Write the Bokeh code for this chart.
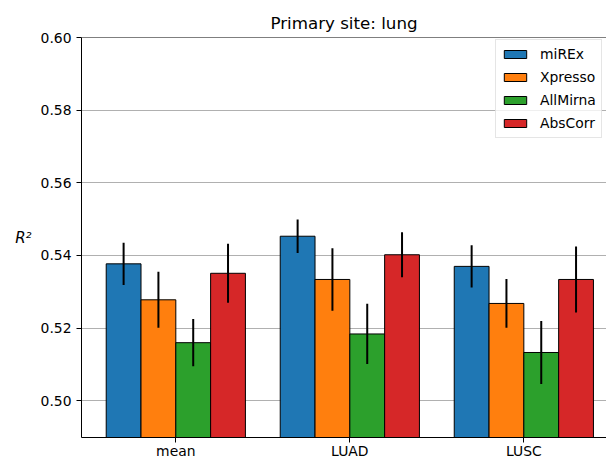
from bokeh.plotting import figure
from bokeh.models import (ColumnDataSource, FixedTicker, PrintfTickFormatter, Legend, LegendItem,
                          Span, Range1d)
from bokeh.transform import dodge
from bokeh.embed import file_html
from bokeh.resources import INLINE

# ---- data ----
groups = ["mean", "LUAD", "LUSC"]
methods = ["miREx", "Xpresso", "AllMirna", "AbsCorr"]
colors = ["#1f77b4", "#ff7f0e", "#2ca02c", "#d62728"]
mirex = [0.5377, 0.5453, 0.5370]
mirex_err = [0.0058, 0.0046, 0.0058]
xpresso = [0.5278, 0.5334, 0.5268]
xpresso_err = [0.0077, 0.0086, 0.0067]
allmirna = [0.5160, 0.5184, 0.5133]
allmirna_err = [0.0065, 0.0083, 0.0087]
abscorr = [0.5351, 0.5402, 0.5334]
abscorr_err = [0.0081, 0.0062, 0.0091]
y_ticks = [0.50, 0.52, 0.54, 0.56, 0.58, 0.60]

values = [mirex, xpresso, allmirna, abscorr]
errors = [mirex_err, xpresso_err, allmirna_err, abscorr_err]
xpos = list(range(len(groups)))

FONT = "DejaVu Sans"

p = figure(width=606, frame_height=400, output_backend="svg", toolbar_location=None,
           x_range=Range1d(-0.542, 2.475), y_range=Range1d(0.4899, 0.60),
           min_border_left=81, min_border_right=0, min_border_top=37,
           title="Primary site: lung")
p.outline_line_color = None
p.background_fill_color = "white"
p.border_fill_color = "white"

p.title.align = "center"
p.title.text_font = FONT
p.title.text_font_size = "16.7px"
p.title.text_font_style = "normal"
p.title.text_color = "black"

p.xgrid.grid_line_color = None
p.ygrid.grid_line_color = "#b0b0b0"
p.ygrid.grid_line_width = 1
p.ygrid.ticker = FixedTicker(ticks=y_ticks)

p.yaxis.ticker = FixedTicker(ticks=y_ticks)
p.yaxis.formatter = PrintfTickFormatter(format="%.2f")
p.xaxis.ticker = FixedTicker(ticks=xpos)
p.xaxis.major_label_overrides = {i: g for i, g in enumerate(groups)}
for ax in (p.xaxis, p.yaxis):
    ax.minor_tick_line_color = None
    ax.major_tick_in = 0
    ax.major_tick_out = 5
    ax.major_tick_line_color = "black"
    ax.axis_line_color = "black"
    ax.major_label_text_font = FONT
    ax.major_label_text_font_size = "13.9px"
    ax.major_label_text_color = "black"
p.xaxis.major_label_standoff = 0
p.yaxis.major_label_standoff = 5

p.yaxis.axis_label = "R²"
p.yaxis.axis_label_orientation = "horizontal"
p.yaxis.axis_label_text_font = FONT
p.yaxis.axis_label_text_font_style = "italic"
p.yaxis.axis_label_text_font_size = "15px"
p.yaxis.axis_label_text_color = "black"
p.yaxis.axis_label_standoff = 6

top_spine = Span(location=0.60, dimension="width", line_color="black", line_width=1)
p.add_layout(top_spine)

offsets = [-0.3, -0.1, 0.1, 0.3]
items = []
for m, vals, errs, col, off in zip(methods, values, errors, colors, offsets):
    src = ColumnDataSource(dict(x=xpos, top=vals,
                                lo=[v - e for v, e in zip(vals, errs)],
                                hi=[v + e for v, e in zip(vals, errs)]))
    r = p.vbar(x=dodge("x", off), top="top", bottom=0.0, width=0.2, source=src,
               fill_color=col, line_color="black", line_width=1)
    p.segment(x0=dodge("x", off), x1=dodge("x", off), y0="lo", y1="hi", source=src,
              line_color="black", line_width=2)
    items.append(LegendItem(label=m, renderers=[r]))

legend = Legend(items=items, location=(414, 299))
legend.label_text_font = FONT
legend.label_text_font_size = "13.9px"
legend.label_text_color = "black"
legend.glyph_width = 28
legend.glyph_height = 10
legend.label_height = 18
legend.spacing = 5
legend.padding = 5
legend.margin = 0
legend.label_standoff = 11
legend.border_line_color = "#cccccc"
legend.border_line_width = 1
legend.background_fill_alpha = 0.8
p.add_layout(legend)

open("out.html", "w").write(file_html(p, INLINE))
